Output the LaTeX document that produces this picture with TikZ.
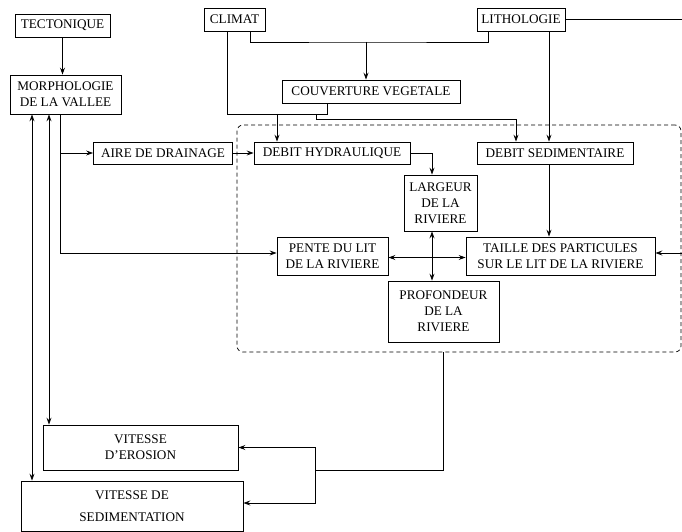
\documentclass[tikz,border=0pt]{standalone}
\usepackage{fontspec}
\setmainfont{Liberation Serif}
\usetikzlibrary{arrows.meta,calc}

\begin{document}
\begin{tikzpicture}[x=1pt,y=-1pt, >={Stealth[length=7pt,width=5pt,inset=2.5pt]}, box/.style={rectangle,draw=black,line width=0.9pt,align=center,inner sep=1pt}, zone/.style={rectangle,dash pattern=on 4pt off 3pt,rounded corners=6pt,draw=black,line width=0.7pt}, font=\fontsize{13.2}{16}\selectfont, line width=0.7pt]
  \useasboundingbox (0,0) rectangle (682,532);
  \node (riviere) [zone,minimum width=444pt,minimum height=227pt] at (459,238.5) {};
  \node (tect) [box,minimum width=95pt,minimum height=23pt] at (62.5,25.5) {TECTONIQUE};
  \node (morpho) [box,minimum width=111pt,minimum height=39pt] at (65.5,94.5) {MORPHOLOGIE\\DE LA VALLEE};
  \node (climat) [box,minimum width=61pt,minimum height=23pt] at (234.5,19.5) {CLIMAT};
  \node (litho) [box,minimum width=88pt,minimum height=23pt] at (521,19.5) {LITHOLOGIE};
  \node (couv) [box,minimum width=178pt,minimum height=23pt] at (371,91.5) {COUVERTURE VEGETALE};
  \node (aire) [box,minimum width=139pt,minimum height=22pt] at (163,153) {AIRE DE DRAINAGE};
  \node (hydr) [box,minimum width=156pt,minimum height=22pt] at (332,153) {DEBIT HYDRAULIQUE};
  \node (sedi) [box,minimum width=156pt,minimum height=22pt] at (555,153) {DEBIT SEDIMENTAIRE};
  \node (larg) [box,minimum width=73pt,minimum height=56pt] at (440.5,203) {LARGEUR\\DE LA\\RIVIERE};
  \node (pente) [box,minimum width=111pt,minimum height=38pt] at (332.5,256) {PENTE DU LIT\\DE LA RIVIERE};
  \node (taille) [box,minimum width=189pt,minimum height=38pt] at (560.5,256) {TAILLE DES PARTICULES\\SUR LE LIT DE LA RIVIERE};
  \node (prof) [box,minimum width=111pt,minimum height=61pt] at (443.5,311.5) {PROFONDEUR\\DE LA\\RIVIERE};
  \node (eros) [box,minimum width=195pt,minimum height=45pt] at (140.5,447.5) {VITESSE\\D'EROSION};
  \node (sedim) [box,minimum width=222pt,minimum height=50pt] at (132,506) {VITESSE DE\\[6pt]SEDIMENTATION};
  \coordinate (j1) at (366,42);
  \coordinate (j2) at (277,114);
  \coordinate (j3) at (316,114);
  \coordinate (j4) at (315,470);
  \coordinate (bordD) at (682,19.5);
  \coordinate (bordT) at (682,253);
  \draw[->] (tect) -- (tect |- morpho.north);
  \draw ([xshift=15.5]climat.south) |- (j1) -| ([xshift=-33]litho.south);
  \draw[->] (j1) -- (j1 |- couv.north);
  \draw ([xshift=-7.5]climat.south) |- ([xshift=-44]couv.south |- j2) -- ([xshift=-44]couv.south);
  \draw[->] (j2) -- (j2 |- hydr.north);
  \draw[->] (j3) -- ++(0,5) -| ([xshift=-39]sedi.north);
  \draw[->] ([xshift=28]litho.south) -- ([xshift=28]litho.south |- sedi.north);
  \draw (litho.east) -- (bordD);
  \draw[->] (bordT) -- (taille.east |- bordT);
  \draw[->] ([xshift=-5.5]morpho.south) |- ([yshift=3]pente.west);
  \draw[->] ([xshift=-5.5]morpho.south |- aire) -- (aire);
  \draw[->] (aire) -- (hydr);
  \draw[->] (hydr.east) -| ([xshift=-8.5]larg.north);
  \draw[<->] ([xshift=-8.5]larg.south) -- ([xshift=-8.5]larg.south |- prof.north);
  \draw[<->] ([yshift=-1.5]pente.east) -- ([yshift=-1.5]pente.east -| taille.west);
  \draw[->] ([xshift=-6]sedi.south) -- ([xshift=-6]sedi.south |- taille.north);
  \draw[<->] ([xshift=-33.5]morpho.south) -- ([xshift=-33.5]morpho.south |- sedim.north);
  \draw[<->] ([xshift=-16.5]morpho.south) -- ([xshift=-16.5]morpho.south |- eros.north);
  \draw ([xshift=-16]riviere.south) |- (j4);
  \draw[->] (j4) |- (eros.east);
  \draw[->] (j4) |- ([yshift=3]sedim.east);
\end{tikzpicture}
\end{document}
